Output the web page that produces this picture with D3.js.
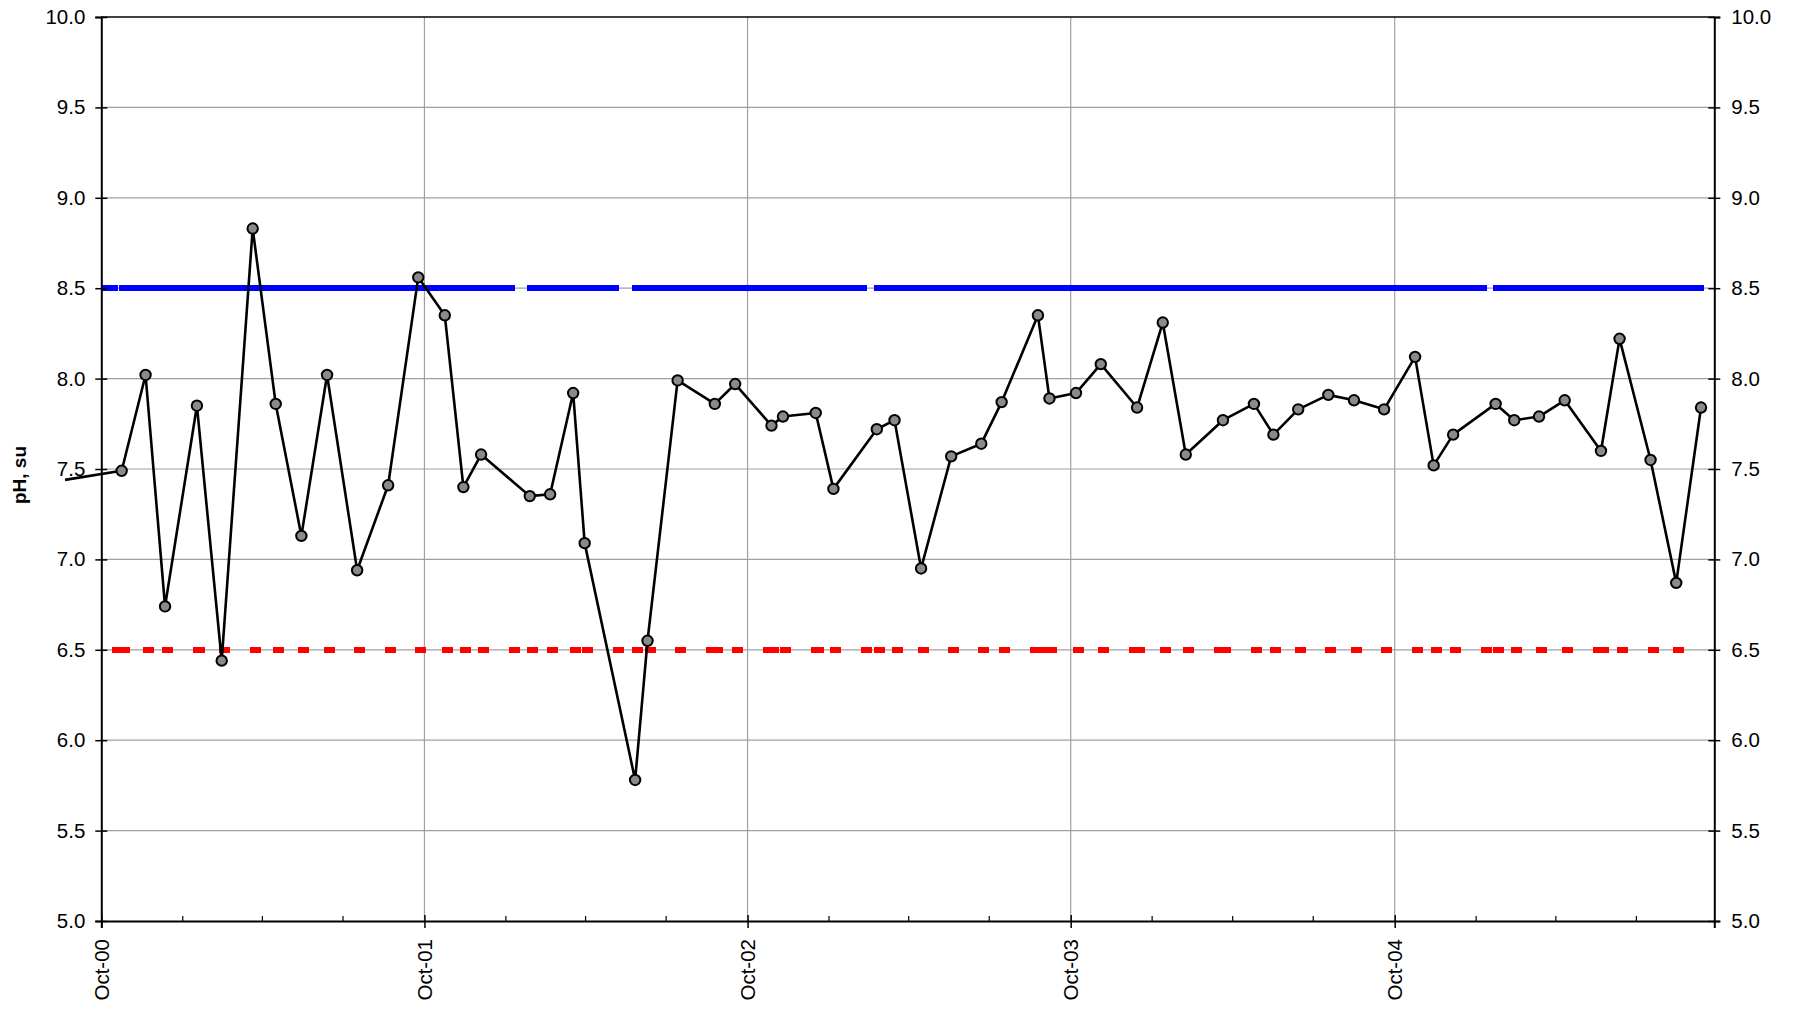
<!DOCTYPE html>
<html>
<head>
<meta charset="utf-8">
<script src="https://cdn.jsdelivr.net/npm/d3@7"></script>
<style>
  html, body { margin: 0; padding: 0; background: #fff; }
  svg { display: block; font-family: "Liberation Sans", Arial, sans-serif; }
</style>
</head>
<body>
<svg id="chart" width="1796" height="1013"></svg>
<script>
// ---------------- data ----------------
const sampleDates = ["2000-10-24","2000-11-20","2000-12-12","2001-01-17","2001-02-14","2001-03-21","2001-04-16","2001-05-15","2001-06-13","2001-07-17","2001-08-21","2001-09-24",
  "2001-10-24","2001-11-14","2001-12-04","2002-01-28","2002-02-20","2002-03-18","2002-03-31","2002-05-27","2002-06-10","2002-07-14","2002-08-25","2002-09-17",
  "2002-10-28","2002-11-10","2002-12-17","2003-01-06","2003-02-24","2003-03-16","2003-04-15","2003-05-19","2003-06-22","2003-07-15","2003-08-25","2003-09-07",
  "2003-10-07","2003-11-04","2003-12-15","2004-01-13","2004-02-08","2004-03-21","2004-04-25","2004-05-17","2004-06-14","2004-07-18","2004-08-16","2004-09-19",
  "2004-10-24","2004-11-14","2004-12-06","2005-01-23","2005-02-13","2005-03-13","2005-04-11","2005-05-22","2005-06-12","2005-07-17","2005-08-15","2005-09-12"];
const phValues = [7.49,8.02,6.74,7.85,6.44,8.83,7.86,7.13,8.02,6.94,7.41,8.56,
  8.35,7.40,7.58,7.35,7.36,7.92,7.09,5.78,6.55,7.99,7.86,7.97,
  7.74,7.79,7.81,7.39,7.72,7.77,6.95,7.57,7.64,7.87,8.35,7.89,
  7.92,8.08,7.84,8.31,7.58,7.77,7.86,7.69,7.83,7.91,7.88,7.83,
  8.12,7.52,7.69,7.86,7.77,7.79,7.88,7.60,8.22,7.55,6.87,7.84];
// earlier sample that lies before the axis start (line only, no marker)
const priorSampleDate = "2000-08-21";
const priorSampleValue = 7.44;
// limit series start date (before axis start; clipped)
const limitStartDate = "2000-09-11";
const upperLimit = 8.5;
const lowerLimit = 6.5;
const xDomain = ["2000-10-01", "2005-09-27"];
const xTickDates = ["2000-10-01","2001-10-01","2002-10-01","2003-10-01","2004-10-01"];
const xTickLabels = ["Oct-00","Oct-01","Oct-02","Oct-03","Oct-04"];
const yTicks = [5.0,5.5,6.0,6.5,7.0,7.5,8.0,8.5,9.0,9.5,10.0];
const yTitle = "pH, su";

// ---------------- layout ----------------
const parse = d3.utcParse("%Y-%m-%d");
const L = 101.3, R = 1714.3, T = 17, B = 921;
const svg = d3.select("#chart");
const x = d3.scaleUtc().domain(xDomain.map(parse)).range([L, R]);
const y = d3.scaleLinear().domain([5, 10]).range([B, T]);

const samples = sampleDates.map((d, i) => ({ date: parse(d), v: phValues[i] }));
const lineData = [{ date: parse(priorSampleDate), v: priorSampleValue }].concat(samples);
const limitDates = [parse(limitStartDate)].concat(samples.map(s => s.date));

svg.append("defs").append("clipPath").attr("id", "plotClip")
  .append("rect").attr("x", L).attr("y", T - 10).attr("width", R - L).attr("height", B - T + 20);

// gridlines
const grid = svg.append("g");
grid.selectAll("line.h").data(yTicks.filter(v => v > 5 && v < 10)).enter().append("line")
  .attr("x1", L).attr("x2", R).attr("y1", d => y(d)).attr("y2", d => y(d))
  .attr("stroke", "#a0a0a0").attr("stroke-width", 1.2);
grid.selectAll("line.v").data(xTickDates.slice(1).map(parse)).enter().append("line")
  .attr("x1", d => x(d)).attr("x2", d => x(d)).attr("y1", T).attr("y2", B)
  .attr("stroke", "#a0a0a0").attr("stroke-width", 1.2);

// limit lines, drawn segment by segment (dash pattern restarts per segment)
function limitLine(value, color, dash) {
  const g = svg.append("g").attr("clip-path", "url(#plotClip)");
  const segs = d3.pairs(limitDates);
  g.selectAll("line").data(segs).enter().append("line")
    .attr("x1", d => x(d[0]) - 3).attr("x2", d => x(d[1]) + 3)
    .attr("y1", y(value)).attr("y2", y(value))
    .attr("stroke", color).attr("stroke-width", 6)
    .attr("stroke-dasharray", dash)
    .attr("shape-rendering", "crispEdges");
}
limitLine(upperLimit, "#0000ff", "37 3000");
limitLine(lowerLimit, "#ff0000", "11 20");

// axes
const axisG = svg.append("g");
const yl = axisG.append("g").attr("transform", `translate(${L},0)`)
  .call(d3.axisLeft(y).tickValues(yTicks).tickFormat(d3.format(".1f")).tickSizeOuter(0).tickSize(6).tickPadding(10));
yl.selectAll(".tick line").attr("x1", 6).attr("x2", -6);
const yr = axisG.append("g").attr("transform", `translate(${R},0)`)
  .call(d3.axisRight(y).tickValues(yTicks).tickFormat(d3.format(".1f")).tickSizeOuter(0).tickSize(6).tickPadding(11));
yr.selectAll(".tick line").attr("x1", -6).attr("x2", 6);
const xb = axisG.append("g").attr("transform", `translate(0,${B})`)
  .call(d3.axisBottom(x).tickValues(xTickDates.map(parse)).tickFormat((d, i) => xTickLabels[i]).tickSizeOuter(0).tickSize(7));
xb.selectAll(".tick line").attr("y1", -6).attr("y2", 7);
xb.selectAll(".tick text").attr("transform", "translate(0,18) rotate(-90)")
  .attr("text-anchor", "end").attr("x", 0).attr("y", 0).attr("dy", "0.35em");
// minor ticks every 3 months
const minor = x.ticks(d3.utcMonth.every(3)).filter(d => d.getUTCMonth() !== 9);
xb.selectAll("line.minor").data(minor).enter().append("line")
  .attr("x1", d => x(d)).attr("x2", d => x(d)).attr("y1", 0).attr("y2", -5)
  .attr("stroke", "#000").attr("stroke-width", 1.2);
axisG.selectAll(".domain").attr("stroke", "#000").attr("stroke-width", 2);
axisG.selectAll(".tick line").attr("stroke", "#000").attr("stroke-width", 1.5);
axisG.selectAll(".tick text").attr("fill", "#000").attr("font-size", 20.5)
  .attr("font-family", "'Liberation Sans', Arial, sans-serif");
// top border
axisG.append("line").attr("x1", L).attr("x2", R).attr("y1", T).attr("y2", T)
  .attr("stroke", "#000").attr("stroke-width", 1.5);

// y title
svg.append("text").attr("transform", `translate(26,${(T + B) / 2 + 6}) rotate(-90)`)
  .attr("text-anchor", "middle").attr("font-weight", "bold").attr("font-size", 19)
  .attr("fill", "#000").text(yTitle);

// data line
svg.append("path").datum(lineData)
  .attr("d", d3.line().x(d => x(d.date)).y(d => y(d.v)))
  .attr("fill", "none").attr("stroke", "#000").attr("stroke-width", 2.6)
  .attr("stroke-linejoin", "round");
svg.append("g").selectAll("circle").data(samples).enter().append("circle")
  .attr("cx", d => x(d.date)).attr("cy", d => y(d.v)).attr("r", 5.2)
  .attr("fill", "#8a8a8a").attr("stroke", "#000").attr("stroke-width", 2);
</script>
</body>
</html>
